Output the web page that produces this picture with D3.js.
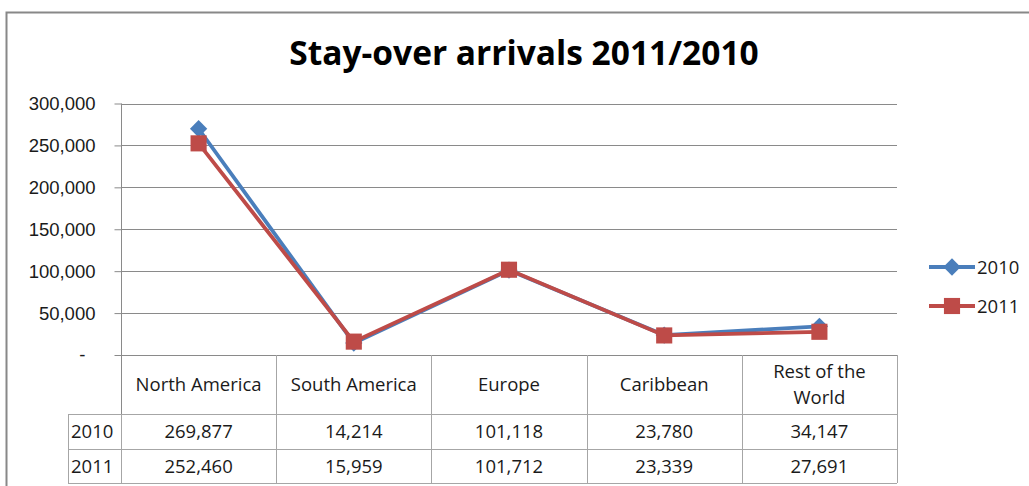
<!DOCTYPE html>
<html>
<head>
<meta charset="utf-8">
<title>Stay-over arrivals 2011/2010</title>
<script src="https://d3js.org/d3.v7.min.js"></script>
<style>
  body { margin: 0; padding: 0; background: #fff; }
  svg { display: block; font-family: "Open Sans", Lato, sans-serif; }
  .tick text { font-size: 18.5px; fill: #1a1a1a; }
  .cell { font-size: 18.5px; fill: #1a1a1a; text-anchor: middle; }
</style>
</head>
<body>
<svg width="1029" height="486"></svg>
<script>
// data
var categories = ["North America", "South America", "Europe", "Caribbean", "Rest of the World"];
var catLines = [["North America"], ["South America"], ["Europe"], ["Caribbean"], ["Rest of the", "World"]];
var seriesNames = ["2010", "2011"];
var values2010 = [269877, 14214, 101118, 23780, 34147];
var values2011 = [252460, 15959, 101712, 23339, 27691];
var yTicks = [0, 50000, 100000, 150000, 200000, 250000, 300000];

var svg = d3.select('svg');
var plotLeft = 121, plotRight = 897, plotTop = 103.5, plotBottom = 355;
var colors = { "2010": "#4A7EBB", "2011": "#BE4B48" };
var gridColor = '#8a8a8a', tableColor = '#a6a6a6';

// outer frame
svg.append('rect')
  .attr('x', 6.5).attr('y', 12.5)
  .attr('width', 1040).attr('height', 500)
  .attr('fill', 'none').attr('stroke', '#888').attr('stroke-width', 2);

svg.append('text')
  .attr('x', 524).attr('y', 65)
  .attr('text-anchor', 'middle')
  .style('font-size', '33.5px').style('font-weight', 'bold').style('fill', '#000')
  .text('Stay-over arrivals 2011/2010');

var x = d3.scaleBand().domain(categories).range([plotLeft, plotRight]);
var y = d3.scaleLinear().domain([0, 300000]).range([plotBottom, plotTop]);

// gridlines
svg.append('g').selectAll('line')
  .data(yTicks.filter(function(d) { return d > 0; }))
  .enter().append('line')
  .attr('x1', plotLeft).attr('x2', plotRight)
  .attr('y1', function(d) { return Math.round(y(d)) + 0.5; })
  .attr('y2', function(d) { return Math.round(y(d)) + 0.5; })
  .attr('stroke', gridColor);

var yAxis = d3.axisLeft(y)
  .tickValues(yTicks)
  .tickSize(7)
  .tickPadding(19)
  .tickFormat(function(d) { return d === 0 ? '-' : d3.format(',')(d); });
var ya = svg.append('g')
  .attr('transform', 'translate(' + (plotLeft + 0.5) + ',0)')
  .call(yAxis);
ya.select('.domain').remove();
ya.selectAll('.tick line').attr('stroke', gridColor);
ya.selectAll('.tick text').attr('dx', function(d) { return d === 0 ? -10 : 0; });
ya.append('line')
  .attr('x1', 0).attr('x2', 0)
  .attr('y1', plotTop).attr('y2', 414)
  .attr('stroke', gridColor);
// zero line / top of the table
svg.append('line')
  .attr('x1', plotLeft).attr('x2', plotRight)
  .attr('y1', plotBottom + 0.5).attr('y2', plotBottom + 0.5)
  .attr('stroke', gridColor);

// data table
var rowTop = 414, rowH = 34.5, headLeft = 68;
var table = svg.append('g');
categories.forEach(function(c, i) {
  var xr = x(c) + x.bandwidth();
  table.append('line')
    .attr('x1', Math.round(xr) + 0.5).attr('x2', Math.round(xr) + 0.5)
    .attr('y1', plotBottom).attr('y2', rowTop + 2 * rowH)
    .attr('stroke', tableColor);
  var lines = catLines[i];
  lines.forEach(function(t, j) {
    table.append('text').attr('class', 'cell')
      .attr('x', x(c) + x.bandwidth() / 2)
      .attr('y', lines.length === 1 ? 391 : 378 + j * 26)
      .text(t);
  });
});
[rowTop, rowTop + rowH, rowTop + 2 * rowH].forEach(function(ry) {
  table.append('line')
    .attr('x1', headLeft).attr('x2', plotRight)
    .attr('y1', Math.round(ry) + 0.5).attr('y2', Math.round(ry) + 0.5)
    .attr('stroke', tableColor);
});
table.append('line')
  .attr('x1', headLeft + 0.5).attr('x2', headLeft + 0.5)
  .attr('y1', rowTop).attr('y2', rowTop + 2 * rowH)
  .attr('stroke', tableColor);
table.append('line')
  .attr('x1', plotLeft + 0.5).attr('x2', plotLeft + 0.5)
  .attr('y1', rowTop).attr('y2', rowTop + 2 * rowH)
  .attr('stroke', tableColor);
[values2010, values2011].forEach(function(vals, r) {
  var by = rowTop + r * rowH + 24;
  table.append('text').attr('class', 'cell')
    .attr('x', headLeft + 3).attr('y', by)
    .style('text-anchor', 'start')
    .text(seriesNames[r]);
  vals.forEach(function(v, i) {
    table.append('text').attr('class', 'cell')
      .attr('x', x(categories[i]) + x.bandwidth() / 2).attr('y', by)
      .text(d3.format(',')(v));
  });
});

// lines and markers
var cx = function(d, i) { return x(categories[i]) + x.bandwidth() / 2; };
var line = d3.line()
  .x(function(d, i) { return cx(d, i); })
  .y(function(d) { return y(d); });
var diamond = d3.symbol().type(d3.symbolDiamond2).size(190);
var square = d3.symbol().type(d3.symbolSquare).size(260);

[[values2010, '2010', diamond], [values2011, '2011', square]].forEach(function(s) {
  var vals = s[0], name = s[1], sym = s[2];
  svg.append('path')
    .datum(vals)
    .attr('d', line)
    .attr('fill', 'none')
    .attr('stroke', colors[name])
    .attr('stroke-width', 3.8);
  svg.append('g').selectAll('path')
    .data(vals)
    .enter().append('path')
    .attr('d', sym)
    .attr('transform', function(d, i) { return 'translate(' + cx(d, i) + ',' + y(d) + ')'; })
    .attr('fill', colors[name]);
});

// legend
var legend = svg.append('g');
[['2010', diamond, 267], ['2011', square, 306]].forEach(function(l) {
  legend.append('line')
    .attr('x1', 929).attr('x2', 975)
    .attr('y1', l[2]).attr('y2', l[2])
    .attr('stroke', colors[l[0]]).attr('stroke-width', 3.8);
  legend.append('path')
    .attr('d', l[1])
    .attr('transform', 'translate(952,' + l[2] + ')')
    .attr('fill', colors[l[0]]);
  legend.append('text')
    .attr('x', 977).attr('y', l[2] + 7)
    .style('font-size', '18.5px').style('fill', '#1a1a1a')
    .text(l[0]);
});
</script>
</body>
</html>
